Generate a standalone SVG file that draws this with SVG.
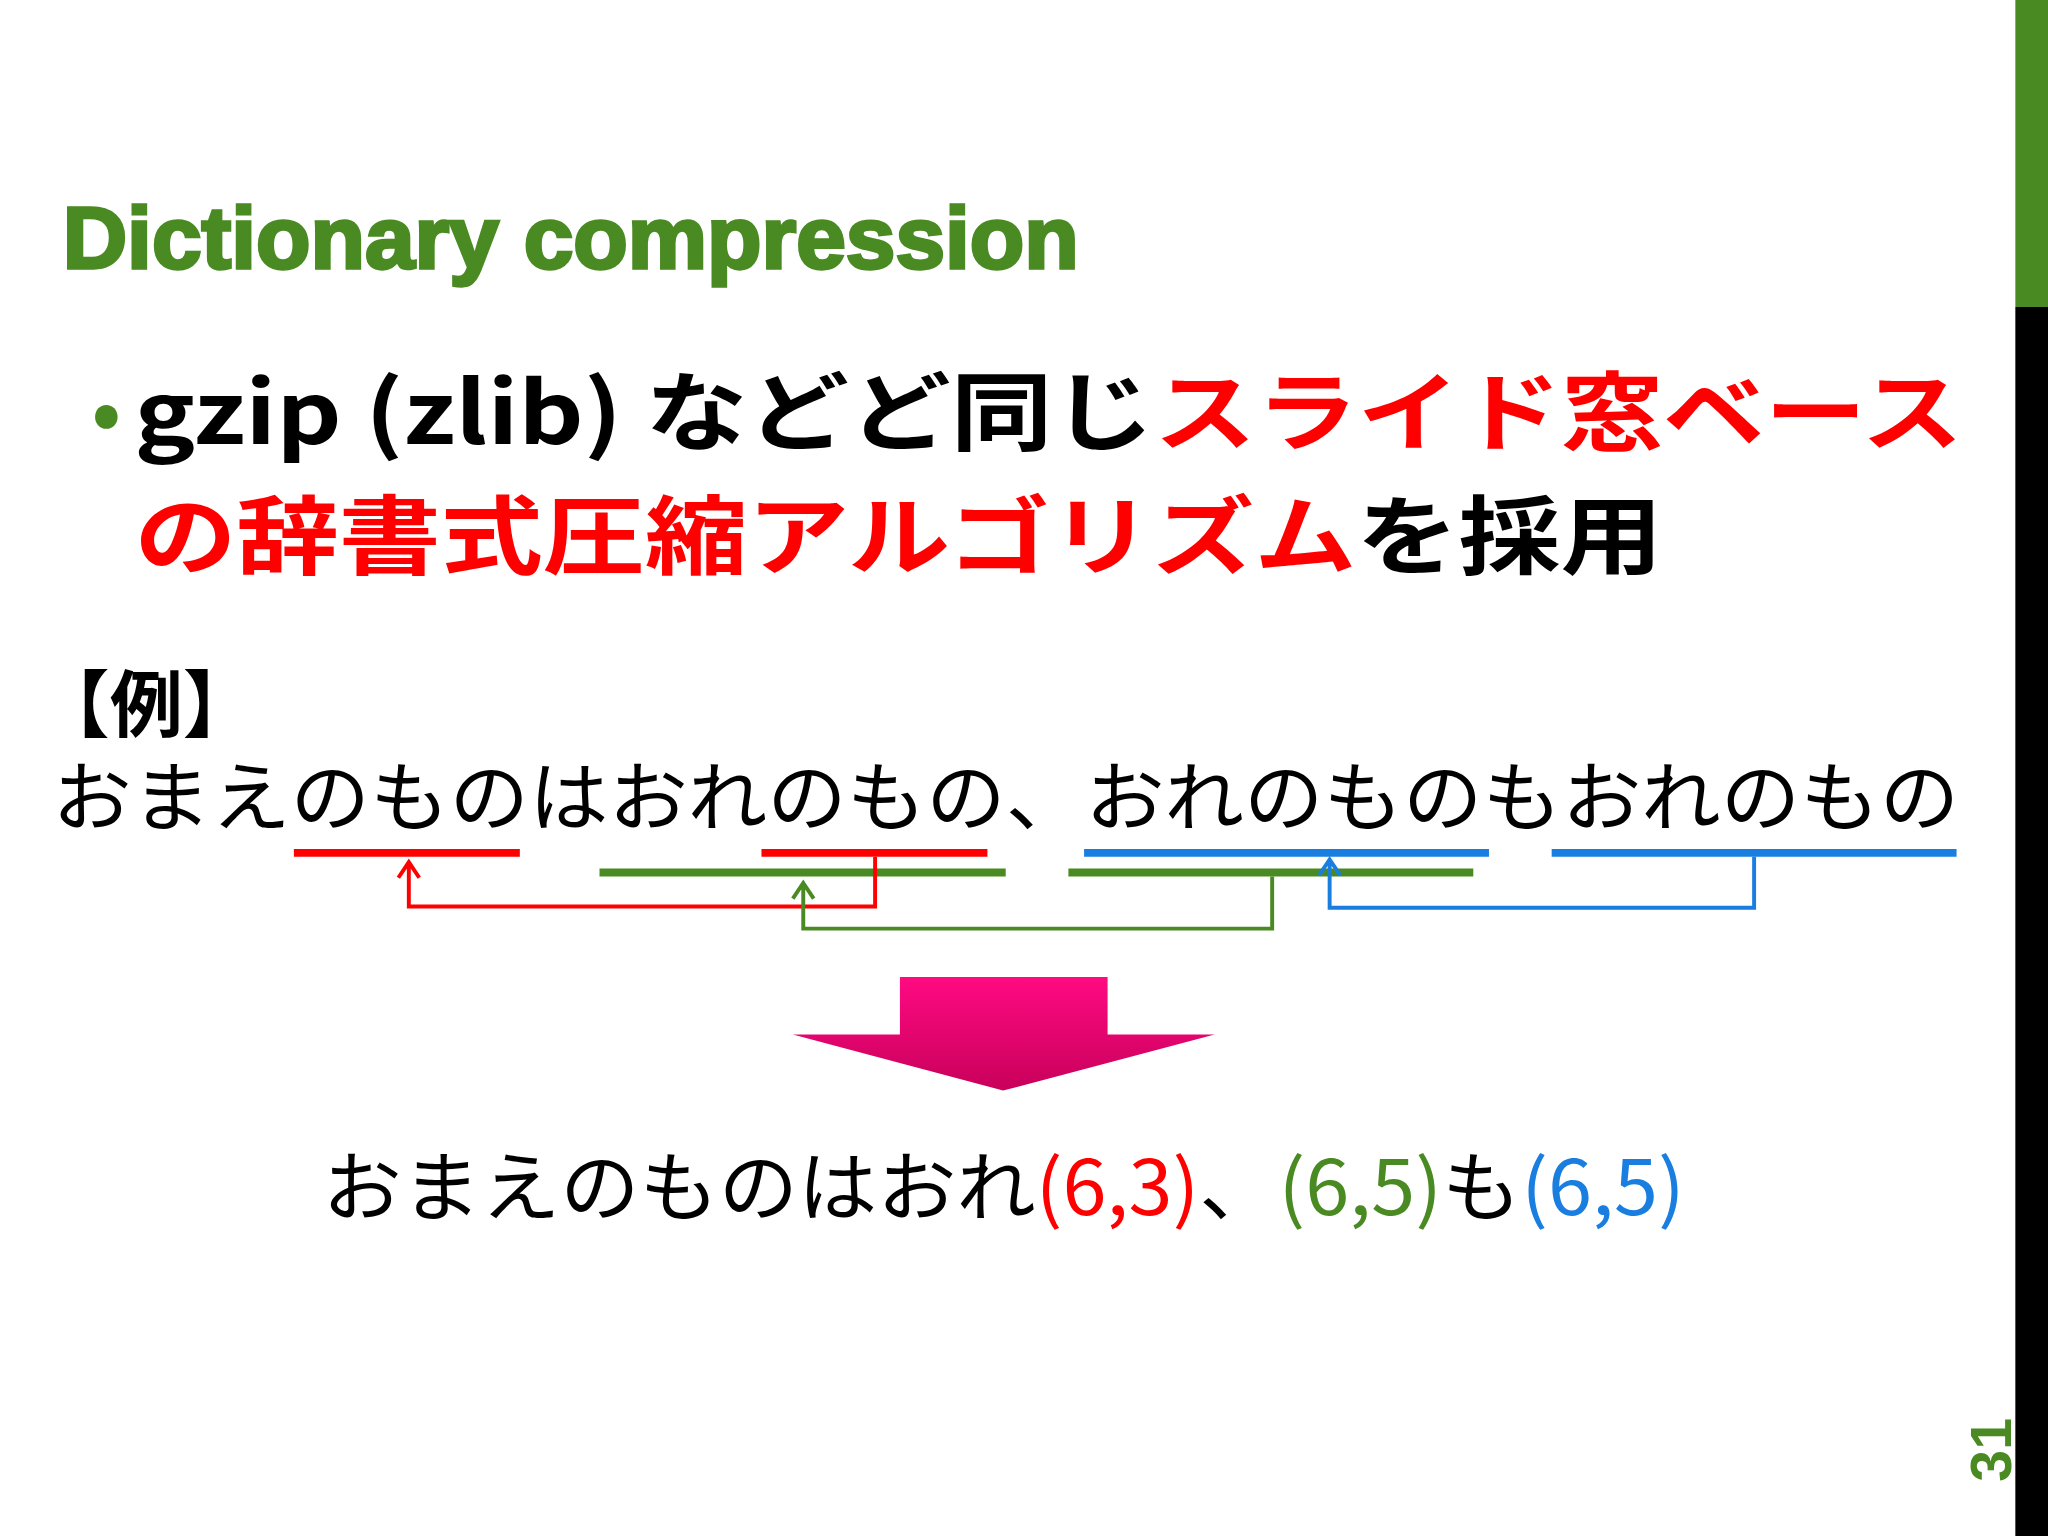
<svg xmlns="http://www.w3.org/2000/svg" width="2048" height="1536" viewBox="0 0 2048 1536">
<style>
.j{font-family:"Noto Sans CJK JP","Liberation Sans",sans-serif}
.b{font-weight:bold}
.r{fill:#ff0000}.k{fill:#000}.g{fill:#4a8a22}.bl{fill:#1a7ee0}
.ln{fill:none;stroke-width:6}
</style>
<defs>
<linearGradient id="pg" x1="0" y1="0" x2="0" y2="1"><stop offset="0" stop-color="#ff0a82"/><stop offset="1" stop-color="#c8005a"/></linearGradient>
</defs>
<rect width="2048" height="1536" fill="#fff"/>
<g transform="scale(1.30612)">
<g id="sidebar"><rect x="1543" y="0" width="25" height="235" fill="#4a8a22"/><rect x="1543" y="235" width="25" height="941" fill="#000"/></g>
<g id="title"><text x="48" y="205" font-family="Liberation Sans,sans-serif" font-weight="bold" font-size="66" class="g" stroke="#4a8a22" stroke-width="2.5" textLength="778" lengthAdjust="spacingAndGlyphs">Dictionary compression</text></g>
<g id="bullet" class="j b" font-size="66">
<text x="70" y="337" class="g" font-size="60">•</text>
<text x="103" y="340" textLength="1400" lengthAdjust="spacingAndGlyphs"><tspan class="k">gzip (zlib) などど同じ</tspan><tspan class="r">スライド窓ベース</tspan></text>
<text x="103" y="435" textLength="1170" lengthAdjust="spacingAndGlyphs"><tspan class="r">の辞書式圧縮アルゴリズム</tspan><tspan class="k">を採用</tspan></text>
</g>
<g id="example" class="j">
<text x="28" y="560" font-size="56" class="b k">【例】</text>
<text x="40" y="632" font-size="58" class="k" textLength="1460" lengthAdjust="spacingAndGlyphs">おまえのものはおれのもの、おれのものもおれのもの</text>
</g>
<g id="connectors">
<line x1="225" y1="653" x2="398" y2="653" stroke="#ff0000" class="ln"/>
<line x1="583" y1="653" x2="756" y2="653" stroke="#ff0000" class="ln"/>
<line x1="459" y1="668" x2="770" y2="668" stroke="#4a8a22" class="ln"/>
<line x1="818" y1="668" x2="1128" y2="668" stroke="#4a8a22" class="ln"/>
<line x1="830" y1="653" x2="1140" y2="653" stroke="#1a7ee0" class="ln"/>
<line x1="1188" y1="653" x2="1498" y2="653" stroke="#1a7ee0" class="ln"/>
<g fill="none" stroke-width="3">
<path d="M670 656V694H313V660M305 672L313 660L321 672" stroke="#ff0000"/>
<path d="M974 671V711H615V676M607 688L615 676L623 688" stroke="#4a8a22"/>
<path d="M1343 656V695H1018V658M1010 670L1018 658L1026 670" stroke="#1a7ee0"/>
</g>
</g>
<g id="bigarrow"><path d="M689 748H848V792H930L768 835L607 792H689Z" fill="url(#pg)"/></g>
<g id="result" class="j" font-size="58">
<text x="247" y="930" textLength="1043" lengthAdjust="spacingAndGlyphs"><tspan class="k">おまえのものはおれ</tspan><tspan class="r">(6,3)</tspan><tspan class="k">、</tspan><tspan class="g">(6,5)</tspan><tspan class="k">も</tspan><tspan class="bl">(6,5)</tspan></text>
</g>
<g id="pagenum"><text transform="translate(1540,1110) rotate(-90)" text-anchor="middle" font-family="Liberation Sans,sans-serif" font-weight="bold" font-size="44" class="g">31</text></g>
</g>
</svg>
